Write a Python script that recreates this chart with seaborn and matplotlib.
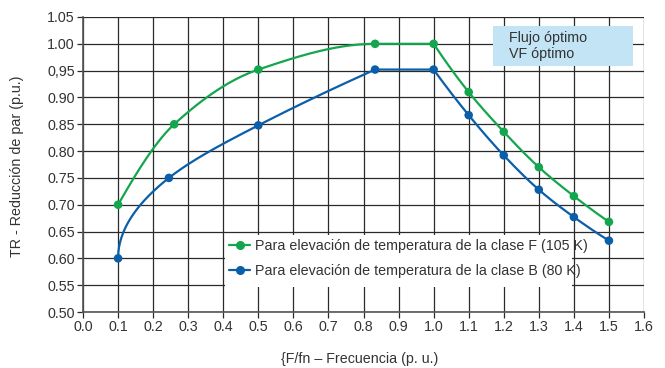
import numpy as np
import pandas as pd
import matplotlib
matplotlib.use("Agg")
import matplotlib.pyplot as plt
from matplotlib.patches import Rectangle
from matplotlib.lines import Line2D
import seaborn as sns

# ---- data ----
freq_F = [0.1, 0.26, 0.5, 0.833, 1.0, 1.1, 1.2, 1.3, 1.4, 1.5]
tr_F = [0.70, 0.85, 0.952, 1.0, 1.0, 0.91, 0.836, 0.77, 0.716, 0.668]
freq_B = [0.1, 0.245, 0.5, 0.833, 1.0, 1.1, 1.2, 1.3, 1.4, 1.5]
tr_B = [0.60, 0.75, 0.848, 0.952, 0.952, 0.867, 0.792, 0.728, 0.677, 0.633]
label_F = "Para elevación de temperatura de la clase F (105 K)"
label_B = "Para elevación de temperatura de la clase B (80 K)"
x_ticks = [round(0.1 * i, 1) for i in range(17)]
x_ticklabels = [f"{v:.1f}" for v in x_ticks]
y_ticks = [round(0.5 + 0.05 * i, 2) for i in range(12)]
y_ticklabels = ["0.50", "0.55", "0.60", "0.65", "0.70", "0.75", "0.80",
                "0.85", "0.90", "0,95", "1.00", "1.05"]
box_text = "Flujo óptimo\nVF óptimo"
x_label = "{F/fn – Frecuencia (p. u.)"
y_label = "TR - Reducción de par (p.u.)"

GREEN = "#13a64e"
BLUE = "#0b5ea8"
GRID = "#2a2a2a"
TXT = "#333333"
FS = 10.3


def pchip(x, y, xq):
    x = np.asarray(x, float); y = np.asarray(y, float)
    n = len(x)
    h = np.diff(x); d = np.diff(y) / h
    m = np.zeros(n)
    if n == 2:
        m[:] = d[0]
    else:
        for k in range(1, n - 1):
            if d[k - 1] * d[k] <= 0:
                m[k] = 0.0
            else:
                w1 = 2 * h[k] + h[k - 1]; w2 = h[k] + 2 * h[k - 1]
                m[k] = (w1 + w2) / (w1 / d[k - 1] + w2 / d[k])
        m0 = ((2 * h[0] + h[1]) * d[0] - h[0] * d[1]) / (h[0] + h[1])
        if np.sign(m0) != np.sign(d[0]):
            m0 = 0
        m[0] = m0
        mn = ((2 * h[-1] + h[-2]) * d[-1] - h[-1] * d[-2]) / (h[-1] + h[-2])
        if np.sign(mn) != np.sign(d[-1]):
            mn = 0
        m[-1] = mn
    xq = np.asarray(xq, float)
    idx = np.clip(np.searchsorted(x, xq) - 1, 0, n - 2)
    t = (xq - x[idx]) / h[idx]
    h00 = 2 * t**3 - 3 * t**2 + 1
    h10 = t**3 - 2 * t**2 + t
    h01 = -2 * t**3 + 3 * t**2
    h11 = t**3 - t**2
    return h00 * y[idx] + h10 * h[idx] * m[idx] + h01 * y[idx + 1] + h11 * h[idx] * m[idx + 1]


def smooth_F(xs, ys):
    xa = np.linspace(xs[0], xs[4], 200)
    ya = pchip(xs[:5], ys[:5], xa)
    xb = np.linspace(xs[4], xs[-1], 150)
    yb = pchip(xs[4:], ys[4:], xb)
    return np.concatenate([xa, xb]), np.concatenate([ya, yb])


def smooth_B(xs, ys):
    u = np.sqrt(np.asarray(xs[:4]) - xs[0])
    uq = np.linspace(0, u[-1], 200)
    ya = pchip(u, ys[:4], uq)
    xa = uq**2 + xs[0]
    xf = np.array([xs[3], xs[4]]); yf = np.array([ys[3], ys[4]])
    xb = np.linspace(xs[4], xs[-1], 150)
    yb = pchip(xs[4:], ys[4:], xb)
    return np.concatenate([xa, xf, xb]), np.concatenate([ya, yf, yb])


sns.set_theme(style="white")
plt.rcParams["font.family"] = ["Liberation Sans", "DejaVu Sans"]

fig = plt.figure(figsize=(6.65, 3.68), dpi=100)
ax = fig.add_axes([83 / 665, 1 - 312 / 368, 561 / 665, 295 / 368])

xF, yF = smooth_F(freq_F, tr_F)
xB, yB = smooth_B(freq_B, tr_B)

ax.plot(xF, yF, color=GREEN, lw=1.6, zorder=4, solid_capstyle="round")
ax.plot(xB, yB, color=BLUE, lw=1.6, zorder=4, solid_capstyle="round")
sns.scatterplot(x=freq_F, y=tr_F, color=GREEN, s=38, edgecolor="none", ax=ax, zorder=5)
sns.scatterplot(x=freq_B, y=tr_B, color=BLUE, s=38, edgecolor="none", ax=ax, zorder=5)

ax.set_xlim(0, 1.6)
ax.set_ylim(0.5, 1.05)
ax.set_xticks(x_ticks)
ax.set_xticklabels(x_ticklabels)
ax.set_yticks(y_ticks)
ax.set_yticklabels(y_ticklabels)
ax.set_axisbelow(True)
ax.grid(True, color=GRID, lw=0.9)
for gl in ax.get_xgridlines() + ax.get_ygridlines():
    gl.set_zorder(0.5)
for s in ["top", "right"]:
    ax.spines[s].set_visible(False)
for s in ["left", "bottom"]:
    ax.spines[s].set_color("#555555")
    ax.spines[s].set_linewidth(1.2)
ax.tick_params(axis="both", which="both", length=4, width=0.9, color=GRID,
               labelsize=FS, labelcolor=TXT, pad=2, direction="out",
               bottom=True, left=True)
ax.set_xlabel(x_label, fontsize=FS, color=TXT)
ax.set_ylabel(y_label, fontsize=FS, color=TXT)
ax.xaxis.set_label_coords(0.494, -0.135)
ax.yaxis.set_label_coords(-0.106, 0.495)

# legend background box
x0 = (225 - 83) / 561 * 1.6
x1 = (572 - 83) / 561 * 1.6
y0 = 0.5 + (312 - 287) / 295 * 0.55
y1 = 0.5 + (312 - 235) / 295 * 0.55
ax.add_patch(Rectangle((x0, y0), x1 - x0, y1 - y0, facecolor="white",
                       edgecolor="none", zorder=3))
handles = [Line2D([], [], color=GREEN, lw=1.6, marker="o", markersize=5.5),
           Line2D([], [], color=BLUE, lw=1.6, marker="o", markersize=5.5)]
leg = ax.legend(handles, [label_F, label_B], loc="upper left",
                bbox_to_anchor=((229 - 83) / 561, (312 - 239) / 295),
                frameon=False, fontsize=FS, handlelength=1.5,
                handletextpad=0.35, labelspacing=0.8, borderaxespad=0,
                borderpad=0)
for t in leg.get_texts():
    t.set_color(TXT)
leg.set_zorder(6)

# "Flujo óptimo" box
bx0 = (493 - 83) / 561 * 1.6
bx1 = (633 - 83) / 561 * 1.6
by0 = 0.5 + (312 - 66) / 295 * 0.55
by1 = 0.5 + (312 - 26) / 295 * 0.55
ax.add_patch(Rectangle((bx0, by0), bx1 - bx0, by1 - by0, facecolor="#c3e4f5",
                       edgecolor="none", zorder=3.5, clip_on=False))
ax.text(bx0 + (509 - 493) / 561 * 1.6, (by0 + by1) / 2, box_text,
        fontsize=FS, color=TXT, va="center", ha="left", linespacing=1.15,
        zorder=6)

fig.savefig("out.png", dpi=100)
